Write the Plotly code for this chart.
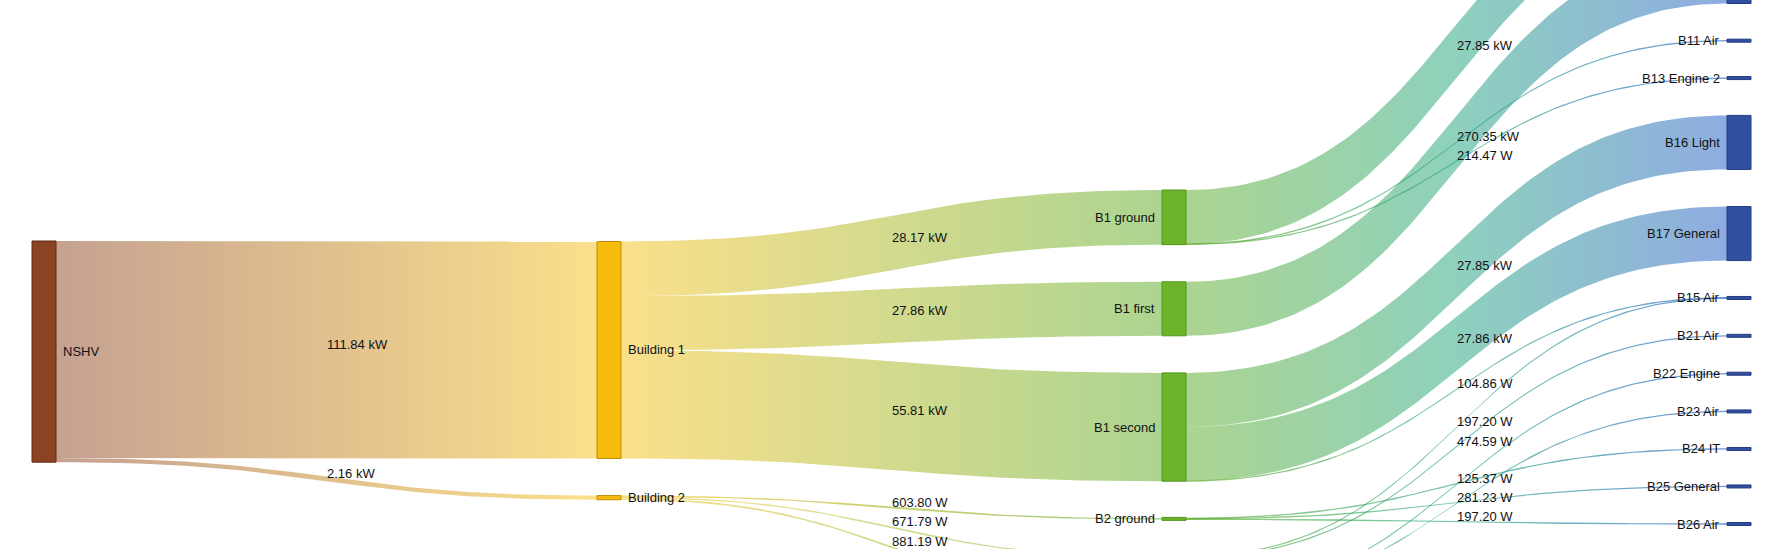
import numpy as np
import plotly.graph_objects as go

# ---------------- data ----------------
node_names = ["NSHV",
              "Building 1", "Building 2",
              "B1 ground", "B1 first", "B1 second", "B2 ground", "B2 first", "B2 second",
              "B12", "B14", "B11 Air", "B13 Engine 2", "B16 Light", "B17 General",
              "B15 Air", "B21 Air", "B22 Engine", "B23 Air", "B24 IT", "B25 General", "B26 Air"]
node_level = [0, 1, 1, 2, 2, 2, 2, 2, 2, 3, 3, 3, 3, 3, 3, 3, 3, 3, 3, 3, 3, 3]

link_source = ["NSHV", "NSHV",
               "Building 1", "Building 1", "Building 1",
               "Building 2", "Building 2", "Building 2",
               "B1 ground", "B1 ground", "B1 ground",
               "B1 first",
               "B1 second", "B1 second", "B1 second",
               "B2 ground", "B2 ground", "B2 ground",
               "B2 first", "B2 first",
               "B2 second", "B2 second"]
link_target = ["Building 1", "Building 2",
               "B1 ground", "B1 first", "B1 second",
               "B2 ground", "B2 first", "B2 second",
               "B12", "B11 Air", "B13 Engine 2",
               "B14",
               "B16 Light", "B17 General", "B15 Air",
               "B24 IT", "B25 General", "B26 Air",
               "B15 Air", "B21 Air",
               "B22 Engine", "B23 Air"]
link_value_kw = [111.84, 2.16,
                 28.17, 27.86, 55.81,
                 0.6038, 0.67179, 0.88119,
                 27.85, 0.106, 0.21447,
                 27.86,
                 27.85, 27.86, 0.10486,
                 0.12537, 0.28123, 0.1972,
                 0.1972, 0.47459,
                 0.35, 0.30]
link_label = ["111.84 kW", "2.16 kW",
              "28.17 kW", "27.86 kW", "55.81 kW",
              "603.80 W", "671.79 W", "881.19 W",
              "27.85 kW", "270.35 kW", "214.47 W",
              "",
              "27.85 kW", "27.86 kW", "104.86 W",
              "125.37 W", "281.23 W", "197.20 W",
              "197.20 W", "474.59 W",
              "", ""]

# ---------------- styles ----------------
level_colors = [(139, 67, 35), (246, 187, 13), (109, 180, 42), (49, 80, 160)]
level_border = [(95, 42, 20), (190, 140, 10), (80, 150, 30), (35, 60, 130)]
link_level_colors = [(139, 67, 35), (246, 192, 22), (88, 170, 34), (28, 88, 196)]
link_mid_colors = {(2, 3): (28, 162, 122)}
link_alpha = 0.5
FONT = "Liberation Sans, Arial, sans-serif"
TXT = "#111111"

# ---------------- layout parameters ----------------
W, H = 1772, 549
left_pad, right_pad = 32, 21
node_w = 24
ky = 1.94          # px per kW
gap = 37.1         # px between nodes
col_top = [241.0, 241.5, 190.0, -141.7]

step = (W - left_pad - right_pad - node_w) / 3.0
idx = {n: i for i, n in enumerate(node_names)}
N = len(node_names)

vin = np.zeros(N)
vout = np.zeros(N)
for s, t, v in zip(link_source, link_target, link_value_kw):
    vout[idx[s]] += v
    vin[idx[t]] += v
node_val = np.maximum(vin, vout)

x0 = np.zeros(N); y0 = np.zeros(N); y1 = np.zeros(N)
for lev in range(4):
    y = col_top[lev]
    for i in range(N):
        if node_level[i] != lev:
            continue
        x0[i] = left_pad + lev * step
        y0[i] = y
        y1[i] = y + node_val[i] * ky
        y = y1[i] + gap

L = len(link_source)
src = [idx[s] for s in link_source]
tgt = [idx[t] for t in link_target]
sy0 = np.zeros(L); ty0 = np.zeros(L)
for i in range(N):
    outs = sorted([k for k in range(L) if src[k] == i], key=lambda k: y0[tgt[k]])
    y = y0[i]
    for k in outs:
        sy0[k] = y
        y += link_value_kw[k] * ky
    ins = sorted([k for k in range(L) if tgt[k] == i], key=lambda k: y0[src[k]])
    y = y0[i]
    for k in ins:
        ty0[k] = y
        y += link_value_kw[k] * ky


def rgba(c, a):
    return "rgba(%d,%d,%d,%.3f)" % (c[0], c[1], c[2], a)


def bez(xa, ya, xb, yb, t):
    xm = (xa + xb) / 2.0
    x = (1 - t) ** 3 * xa + 3 * (1 - t) ** 2 * t * xm + 3 * (1 - t) * t ** 2 * xm + t ** 3 * xb
    y = (1 - t) ** 3 * ya + 3 * (1 - t) ** 2 * t * ya + 3 * (1 - t) * t ** 2 * yb + t ** 3 * yb
    return x, y


fig = go.Figure()
tt = np.linspace(0, 1, 90)
annotations = []
for k in range(L):
    s, t = src[k], tgt[k]
    ls, lt = node_level[s], node_level[t]
    xa = x0[s] + node_w
    xb = x0[t]
    th = link_value_kw[k] * ky
    dth = max(th, 1.3)
    pad = (dth - th) / 2.0
    xt, yt = bez(xa, sy0[k] - pad, xb, ty0[k] - pad, tt)
    xbm, ybm = bez(xa, sy0[k] + th + pad, xb, ty0[k] + th + pad, tt)
    xs = np.concatenate([xt, xbm[::-1], xt[:1]])
    ys = np.concatenate([yt, ybm[::-1], yt[:1]])
    a = link_alpha if th >= 1.3 else 0.62
    cscale = [[0, rgba(link_level_colors[ls], a)]]
    if (ls, lt) in link_mid_colors:
        cscale.append([0.5, rgba(link_mid_colors[(ls, lt)], a)])
    cscale.append([1, rgba(link_level_colors[lt], a)])
    fig.add_trace(go.Scatter(
        x=xs, y=ys, mode="lines", fill="toself",
        line=dict(width=0, color="rgba(0,0,0,0)"),
        fillgradient=dict(type="horizontal", colorscale=cscale),
        hoverinfo="skip", showlegend=False))
    if link_label[k]:
        mx = (xa + xb) / 2.0
        my = (sy0[k] + ty0[k]) / 2.0 + th / 2.0
        annotations.append(dict(x=mx, y=my - 5.5, xref="x", yref="y", text=link_label[k],
                                showarrow=False, xanchor="left", yanchor="middle", xshift=-2,
                                font=dict(family=FONT, size=13, color=TXT)))

shapes = []
for i in range(N):
    lev = node_level[i]
    hgt = y1[i] - y0[i]
    cy = (y0[i] + y1[i]) / 2.0
    vh = max(hgt, 3.0)
    shapes.append(dict(type="rect", xref="x", yref="y",
                       x0=x0[i], x1=x0[i] + node_w, y0=cy - vh / 2.0, y1=cy + vh / 2.0,
                       fillcolor=rgba(level_colors[lev], 1),
                       line=dict(color=rgba(level_border[lev], 1), width=1), layer="above"))
    if lev < 2:
        annotations.append(dict(x=x0[i] + node_w + 5, y=cy, xref="x", yref="y", text=node_names[i],
                                showarrow=False, xanchor="left", yanchor="middle",
                                font=dict(family=FONT, size=13, color=TXT)))
    else:
        annotations.append(dict(x=x0[i] - 5, y=cy, xref="x", yref="y", text=node_names[i],
                                showarrow=False, xanchor="right", yanchor="middle",
                                font=dict(family=FONT, size=13, color=TXT)))

fig.update_layout(
    width=W, height=H, autosize=False,
    margin=dict(l=0, r=0, t=0, b=0),
    paper_bgcolor="white", plot_bgcolor="white",
    xaxis=dict(range=[0, W], visible=False, fixedrange=True),
    yaxis=dict(range=[H, 0], visible=False, fixedrange=True),
    shapes=shapes, annotations=annotations,
    hovermode=False,
)
fig.write_html("out.html")
